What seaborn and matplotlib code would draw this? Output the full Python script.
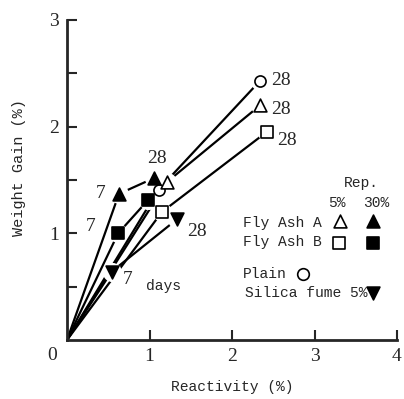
import matplotlib
matplotlib.use("Agg")
import matplotlib.pyplot as plt
import pandas as pd
import seaborn as sns

# Reactivity (%) and weight gain (%) at 7 and 28 days
series = ["Plain", "Fly Ash A 5%", "Fly Ash B 5%", "Fly Ash A 30%", "Fly Ash B 30%", "Silica fume 5%"]
react_7d = [1.11, 1.21, 1.15, 0.63, 0.62, 0.54]
gain_7d = [1.41, 1.48, 1.20, 1.37, 1.00, 0.64]
react_28d = [2.34, 2.34, 2.42, 1.06, 0.98, 1.33]
gain_28d = [2.43, 2.20, 1.95, 1.52, 1.31, 1.13]

markers = ["o", "^", "s", "^", "s", "v"]
filled = [False, False, False, True, True, True]

sns.set_style("ticks")
plt.rcParams["font.family"] = ["Liberation Mono", "DejaVu Sans"]
num_font = {"family": "Liberation Serif", "size": 14}

rows = []
for s, x7, y7, x28, y28 in zip(series, react_7d, gain_7d, react_28d, gain_28d):
    rows.append({"series": s, "age": 0, "reactivity": 0.0, "gain": 0.0})
    rows.append({"series": s, "age": 7, "reactivity": x7, "gain": y7})
    rows.append({"series": s, "age": 28, "reactivity": x28, "gain": y28})
df = pd.DataFrame(rows)
pts = df[df["age"] > 0]

fig = plt.figure(figsize=(4.04, 3.99), dpi=100)
ax = fig.add_axes([67 / 404, 59 / 399, 330 / 404, 320 / 399])

sns.lineplot(data=df, x="reactivity", y="gain", units="series", estimator=None,
             sort=False, color="black", lw=1.6, legend=False, ax=ax, zorder=2)

# white halo around each point so the lines stop short of the symbols
sns.scatterplot(data=pts, x="reactivity", y="gain", color="white", marker="o",
                s=190, linewidth=0, legend=False, ax=ax, zorder=3)

for s, m, f in zip(series, markers, filled):
    sub = pts[pts["series"] == s]
    size = 85 if m in ("^", "v") else 64
    sns.scatterplot(data=sub, x="reactivity", y="gain", marker=m, s=size,
                    facecolor="black" if f else "white", edgecolor="black",
                    linewidth=1.2, legend=False, ax=ax, zorder=4)

# age labels
for txt, x, y in [("28", 2.59, 2.43), ("28", 2.59, 2.16), ("28", 2.67, 1.87),
                  ("28", 1.09, 1.70), ("28", 1.57, 1.02), ("7", 0.41, 1.375),
                  ("7", 0.29, 1.06), ("7", 0.735, 0.57)]:
    ax.text(x, y, txt, ha="center", va="center", fontdict=num_font)
ax.text(1.167, 0.51, "days", ha="center", va="center", fontsize=10.5)

# key
ax.text(0.893, 0.49, "Rep.", transform=ax.transAxes, ha="center", va="center", fontsize=10.5)
ax.text(0.817, 0.427, "5%", transform=ax.transAxes, ha="center", va="center", fontsize=10.5)
ax.text(0.938, 0.427, "30%", transform=ax.transAxes, ha="center", va="center", fontsize=10.5)
ax.text(0.533, 0.367, "Fly Ash A", transform=ax.transAxes, ha="left", va="center", fontsize=10.5)
ax.text(0.533, 0.305, "Fly Ash B", transform=ax.transAxes, ha="left", va="center", fontsize=10.5)
ax.text(0.533, 0.206, "Plain", transform=ax.transAxes, ha="left", va="center", fontsize=10.5)
ax.text(0.539, 0.148, "Silica fume 5%", transform=ax.transAxes, ha="left", va="center", fontsize=10.5)
key = [(0.827, 0.372, "^", "white"), (0.928, 0.372, "^", "black"),
       (0.825, 0.304, "s", "white"), (0.928, 0.304, "s", "black"),
       (0.716, 0.206, "o", "white"), (0.928, 0.148, "v", "black")]
for kx, ky, km, kc in key:
    ax.scatter([kx], [ky], transform=ax.transAxes, marker=km, s=85 if km in ("^", "v") else 70,
               facecolor=kc, edgecolor="black", linewidth=1.2, clip_on=False, zorder=4)

ax.set_xlim(0, 4)
ax.set_ylim(0, 3)
ax.set_xticks([1, 2, 3, 4])
ax.set_xticklabels(["1", "2", "3", "4"], fontdict=num_font)
ax.set_yticks([0.5, 1, 1.5, 2, 2.5, 3])
ax.set_yticklabels(["", "1", "", "2", "", "3"], fontdict=num_font)
ax.tick_params(direction="in", length=7, width=1.5, pad=6)
ax.text(-15 / 330, -15 / 320, "0", transform=ax.transAxes, ha="center", va="center", fontdict=num_font)

for side in ("top", "right"):
    ax.spines[side].set_visible(False)
for side in ("left", "bottom"):
    ax.spines[side].set_linewidth(2)

ax.set_xlabel("Reactivity (%)", fontsize=10.5)
ax.set_ylabel("Weight Gain (%)", fontsize=11)
ax.xaxis.set_label_coords(0.5, -0.125)
ax.yaxis.set_label_coords(-0.125, 0.54)

fig.savefig("out.png", dpi=100)
